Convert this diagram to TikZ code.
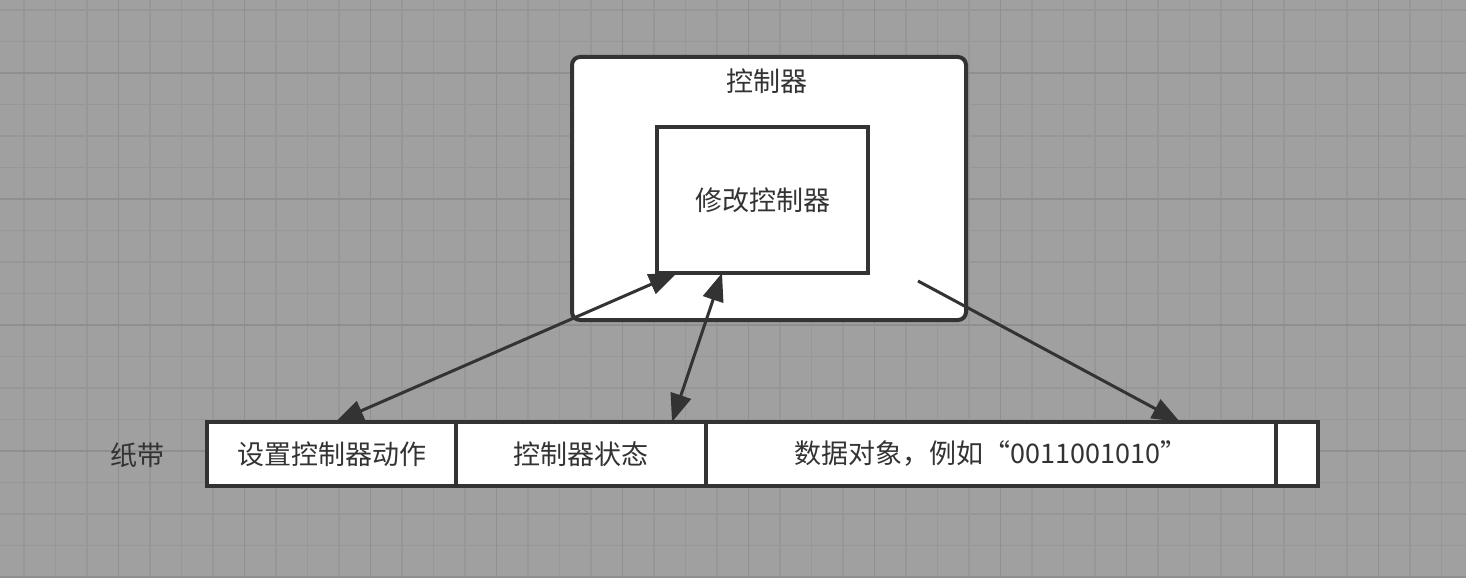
\documentclass[tikz,border=0pt]{standalone}
\usepackage{fontspec}
\setmainfont{Noto Sans CJK SC}
\usetikzlibrary{positioning, arrows.meta}

\definecolor{bggray}{RGB}{160,160,160}
\definecolor{gridgray}{RGB}{151,151,151}
\definecolor{majorgray}{RGB}{143,143,143}
\definecolor{ink}{RGB}{51,51,51}

\begin{document}
\begin{tikzpicture}[x=1pt, y=-1pt, node distance=0pt,
    every node/.style={text=ink, outer sep=0pt, font=\fontsize{27}{32}\selectfont},
    box/.style={draw=ink, line width=4pt, fill=white, inner sep=0pt},
    cell/.style={box, minimum height=64pt},
    link/.style={draw=ink, line width=3pt, -{Triangle[length=28pt, width=21pt]}},
    twoway/.style={draw=ink, line width=3pt, {Triangle[length=28pt, width=21pt]}-{Triangle[length=28pt, width=21pt]}}]
    % background grid
    \fill[bggray] (0,0) rectangle (1466,578);
    \useasboundingbox (0,0) rectangle (1466,578);
    \foreach \i in {0,...,45}
        \draw[gridgray, line width=1.5pt] (24+31.5*\i,0) -- (24+31.5*\i,578);
    \foreach \j in {0,...,18}
        \draw[gridgray, line width=1.5pt] (0,10+31.5*\j) -- (1466,10+31.5*\j);
    \foreach \i in {0,...,10}
        \draw[majorgray, line width=1.5pt] (118.5+126*\i,0) -- (118.5+126*\i,578);
    \foreach \j in {0,...,4}
        \draw[majorgray, line width=1.5pt] (0,73+126*\j) -- (1466,73+126*\j);

    % controller
    \node[box, rounded corners=8pt, minimum width=394pt, minimum height=263pt] (ctrl) at (769,188.5) {};
    \node (ctrltitle) at (767,81) {控制器};
    \node[box, minimum width=211pt, minimum height=146pt] (modify) at (762.5,200) {修改控制器};
    \coordinate (emit) at (918,281);

    % tape
    \node (tapelabel) at (137,455) {纸带};
    \node[cell, minimum width=249pt] (action) at (331.5,454) {设置控制器动作};
    \node[cell, minimum width=250pt] (state) [right=of action] {控制器状态};
    \node[cell, minimum width=570pt] (data) [right=of state] {数据对象，例如“0011001010”};
    \node[cell, minimum width=42pt] (blank) [right=of data] {};

    \draw[twoway] ([xshift=4pt]action.north) -- ([xshift=20pt]modify.south west);
    \draw[twoway] ([xshift=-34pt]state.north east) -- ([xshift=65pt]modify.south west);
    \draw[link] (emit) -- ([xshift=189pt]data.north);
\end{tikzpicture}
\end{document}
